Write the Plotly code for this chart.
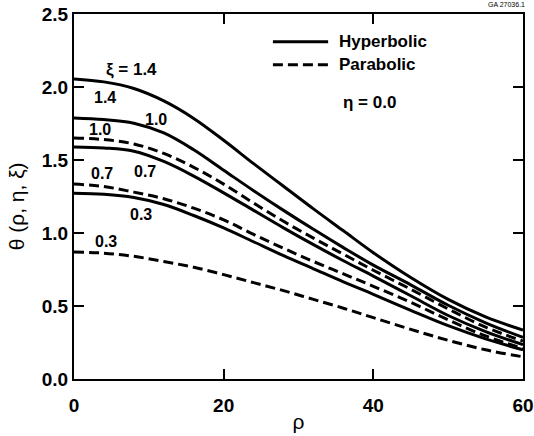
import plotly.graph_objects as go

rho = [0, 4, 8, 12, 16, 20, 24, 28, 32, 36, 40, 45, 50, 55, 60]

hyp_14 = [2.055, 2.035, 1.99, 1.905, 1.785, 1.635, 1.475, 1.32, 1.165, 1.015, 0.865, 0.695, 0.545, 0.425, 0.335]
hyp_10 = [1.788, 1.777, 1.752, 1.685, 1.57, 1.43, 1.29, 1.155, 1.025, 0.90, 0.78, 0.645, 0.505, 0.385, 0.285]
hyp_07 = [1.589, 1.582, 1.56, 1.49, 1.39, 1.275, 1.155, 1.035, 0.92, 0.81, 0.705, 0.57, 0.435, 0.325, 0.235]
hyp_03 = [1.272, 1.265, 1.243, 1.195, 1.12, 1.035, 0.94, 0.845, 0.755, 0.665, 0.58, 0.47, 0.365, 0.275, 0.20]

par_10 = [1.651, 1.64, 1.61, 1.545, 1.45, 1.335, 1.205, 1.08, 0.965, 0.855, 0.745, 0.615, 0.48, 0.355, 0.26]
par_07 = [1.336, 1.318, 1.28, 1.235, 1.17, 1.09, 0.99, 0.895, 0.805, 0.72, 0.635, 0.525, 0.405, 0.295, 0.21]
par_03 = [0.87, 0.862, 0.84, 0.805, 0.765, 0.715, 0.66, 0.605, 0.545, 0.485, 0.42, 0.34, 0.265, 0.20, 0.152]

# curve labels
label_texts = ["ξ = 1.4", "1.4", "1.0", "1.0", "0.7", "0.7", "0.3", "0.3"]
label_x = [7.7, 4.1, 11.0, 3.5, 9.5, 3.7, 9.0, 4.3]
label_y = [2.12, 1.93, 1.775, 1.707, 1.42, 1.41, 1.125, 0.94]
label_size = [17, 16, 16, 16, 16, 16, 16, 16]

x_ticks = [0, 20, 40, 60]
y_ticks = [0.0, 0.5, 1.0, 1.5, 2.0, 2.5]

BOLD = "Liberation Sans"
fig = go.Figure()

for ys in [hyp_14, hyp_10, hyp_07, hyp_03]:
    fig.add_trace(go.Scatter(x=rho, y=ys, mode="lines",
                             line=dict(color="black", width=3, shape="spline", smoothing=1.0),
                             showlegend=False, hoverinfo="skip"))
for ys in [par_10, par_07, par_03]:
    fig.add_trace(go.Scatter(x=rho, y=ys, mode="lines",
                             line=dict(color="black", width=3, shape="spline", smoothing=1.0, dash="10px,5px"),
                             showlegend=False, hoverinfo="skip"))

for t, xx, yy, sz in zip(label_texts, label_x, label_y, label_size):
    fig.add_annotation(x=xx, y=yy, text="<b>%s</b>" % t, showarrow=False,
                       font=dict(family=BOLD, size=sz, color="black"))

# legend decorations
fig.add_shape(type="line", xref="paper", yref="paper", x0=0.443, x1=0.566, y0=0.924, y1=0.924,
              line=dict(color="black", width=3))
fig.add_shape(type="line", xref="paper", yref="paper", x0=0.443, x1=0.566, y0=0.861, y1=0.861,
              line=dict(color="black", width=3, dash="10px,5px"))
fig.add_annotation(xref="paper", yref="paper", x=0.585, y=0.924, xanchor="left", yanchor="middle",
                   text="<b>Hyperbolic</b>", showarrow=False, font=dict(family=BOLD, size=17, color="black"))
fig.add_annotation(xref="paper", yref="paper", x=0.585, y=0.861, xanchor="left", yanchor="middle",
                   text="<b>Parabolic</b>", showarrow=False, font=dict(family=BOLD, size=17, color="black"))
fig.add_annotation(xref="paper", yref="paper", x=0.595, y=0.757, xanchor="left", yanchor="middle",
                   text="<b>η = 0.0</b>", showarrow=False, font=dict(family=BOLD, size=17, color="black"))
fig.add_annotation(xref="paper", yref="paper", x=1.008, y=1.027, xanchor="right", yanchor="middle",
                   text="GA 27036.1", showarrow=False, font=dict(family=BOLD, size=7, color="black"))
# y-axis title (placed slightly below the plot centre, as in the reference)
fig.add_annotation(xref="paper", yref="paper", x=-0.128, y=0.472, xanchor="center", yanchor="middle",
                   textangle=-90, text="θ (ρ, η, ξ)", showarrow=False,
                   font=dict(family=BOLD, size=21, color="black"))

axis_common = dict(showgrid=False, zeroline=False, showline=True, linecolor="black", linewidth=2,
                   mirror="ticks", ticks="inside", ticklen=10, tickwidth=1.5, tickcolor="black",
                   automargin=False,
                   tickfont=dict(family=BOLD, size=19, color="black"))

fig.update_xaxes(range=[0, 60], tickvals=x_ticks, ticktext=["<b>%d</b>" % v for v in x_ticks],
                 ticklabelstandoff=8,
                 title=dict(text="ρ", font=dict(family=BOLD, size=21, color="black"), standoff=0),
                 **axis_common)
fig.update_yaxes(range=[0, 2.5], tickvals=y_ticks, ticktext=["<b>%.1f</b>" % v for v in y_ticks],
                 **axis_common)

fig.update_layout(width=534, height=436, margin=dict(l=73.5, r=10.5, t=14.3, b=56.7),
                  paper_bgcolor="white", plot_bgcolor="white", showlegend=False)

fig.write_html("out.html", config={"displayModeBar": False},
               post_script="document.body.style.margin='0px';")
